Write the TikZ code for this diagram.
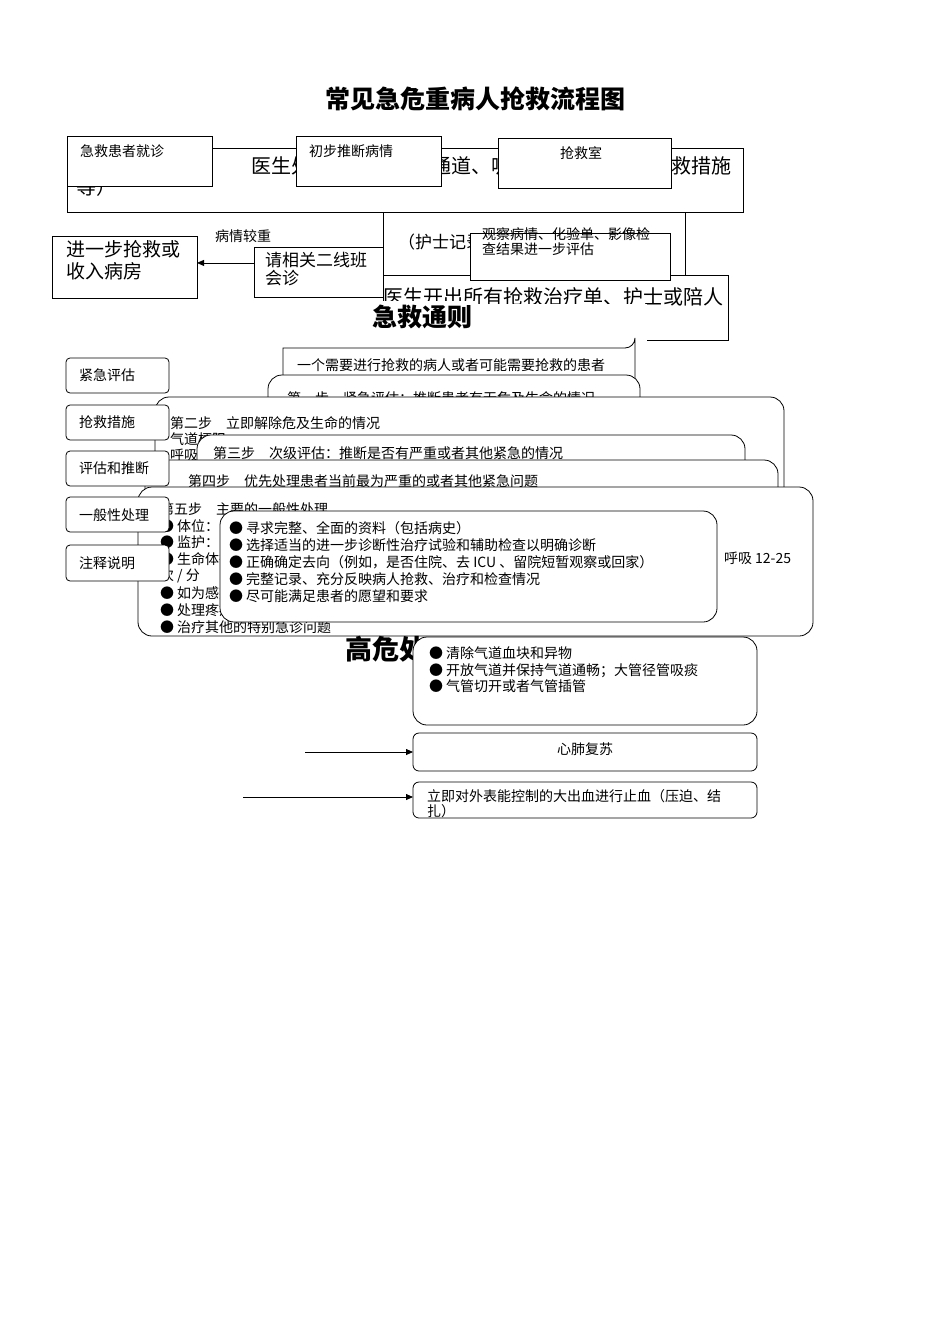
\documentclass[tikz,border=0pt]{standalone}
\usepackage{fontspec}
\setmainfont{Noto Sans CJK SC}
\usetikzlibrary{arrows.meta}
\newcommand{\bx}[6]{\node[#6,anchor=north west,minimum width={(#4-#2)*1pt},minimum height={(#5-#3)*1pt}] (#1) at (#2,#3) {};}
\begin{document}
\begin{tikzpicture}[x=1pt,y=-1pt,inner sep=0pt,outer sep=0pt,
  sq/.style={draw,fill=white,line width=0.8pt},
  rd/.style={draw,fill=white,line width=0.8pt,rounded corners=14pt},
  tx/.style={anchor=west,font=\fontsize{14}{16}\selectfont},
  tl/.style={anchor=west,font=\fontsize{20}{23}\selectfont},
  arr/.style={-{Triangle[length=7pt,width=6pt]},line width=0.8pt}]
\useasboundingbox (0,0) rectangle (950,1344);
\node[font=\bfseries\fontsize{25}{28}\selectfont] (title) at (475,99) {常见急危重病人抢救流程图};
% big treatment box
\bx{treat}{67}{148}{743}{212}{sq}
\node[tl,anchor=east] (t1) at (731,166) {医生处理（开通静脉通道、吸氧、按医嘱实施抢救措施};
\node[tl] (t2) at (76,187) {等）};
\bx{rec}{383}{212}{685}{275}{sq}
\draw[draw=none,fill=white] (384,237) rectangle (684,274);
\draw[line width=0.8pt] (383,236) -- (383,275);
\node[tl,font=\fontsize{17}{20}\selectfont] (t3) at (398,242) {（护士记录）};
\bx{order}{383}{275}{728}{340}{sq}
\node[tl] (t4) at (383,297) {医生开出所有抢救治疗单、护士或陪人};
\bx{obs}{470}{233}{670}{280}{sq}
\node[tx,align=left,anchor=north west,font=\fontsize{14}{15}\selectfont] (t5) at (482,228) {观察病情、化验单、影像检\\查结果进一步评估};
\node[tx] (l1) at (215,236) {病情较重};
\bx{consult}{254}{247}{383}{297}{sq}
\node[tl,align=left,font=\fontsize{17}{18}\selectfont,anchor=north west] (t6) at (265,252) {请相关二线班\\会诊};
\bx{further}{52}{236}{197}{298}{sq}
\node[tl,align=left,font=\fontsize{19}{22}\selectfont,anchor=north west] (t7) at (66,240) {进一步抢救或\\收入病房};
\draw[arr] (consult.172) -- (consult.172 -| further.east);
\bx{visit}{67}{136}{212}{186}{sq}
\node[tx] at (80,151) {急救患者就诊};
\bx{judge}{296}{136}{441}{186}{sq}
\node[tx] at (309,151) {初步推断病情};
\bx{room}{498}{138}{671}{188}{sq}
\node[tx] at (560,153) {抢救室};
\draw[draw=none,fill=white] (381,304) rectangle (647,346);
\node[font=\bfseries\fontsize{25}{28}\selectfont,fill=white,inner xsep=6pt,inner ysep=4pt] (rules) at (422,317) {急救通则};
% steps
\draw[line width=0.8pt,fill=white] (283,630) -- (283,348) -- (625,348) arc[start angle=90,end angle=0,radius=10] -- (635,630);
\node[tx] (s1) at (297,365) {一个需要进行抢救的病人或者可能需要抢救的患者};
\bx{st1}{268}{375}{640}{630}{rd}
\node[tx] at (287,398) {第一步\quad 紧急评估：推断患者有无危及生命的情况};
\bx{st2}{155}{397}{784}{630}{rd}
\node[tx] at (170,423) {第二步\quad 立即解除危及生命的情况};
\node[tx] at (170,439) {气道梗阻};
\node[tx] at (170,455) {呼吸};
\bx{st3}{197}{435}{745}{630}{rd}
\node[tx] at (213,453) {第三步\quad 次级评估：推断是否有严重或者其他紧急的情况};
\bx{st4}{145}{460}{778}{630}{rd}
\node[tx] at (188,481) {第四步\quad 优先处理患者当前最为严重的或者其他紧急问题};
\bx{st5}{138}{487}{813}{636}{rd}
\node[tx] at (160,509) {第五步\quad 主要的一般性处理};
\node[tx] at (160,526) {● 体位：};
\node[tx] at (160,542) {● 监护：};
\node[tx] at (160,559) {● 生命体征};
\node[tx] at (160,576) {次 / 分};
\node[tx] at (160,593) {● 如为感染};
\node[tx] at (160,610) {● 处理疼痛};
\node[tx] at (160,627) {● 治疗其他的特别急诊问题};
\node[tx] at (724,558) {呼吸 12-25};
\bx{notes}{220}{511}{717}{622}{rd}
\node[tx,anchor=north west,align=left,font=\fontsize{14}{16.8}\selectfont] at (229,522) {● 寻求完整、全面的资料（包括病史）\\● 选择适当的进一步诊断性治疗试验和辅助检查以明确诊断\\● 正确确定去向（例如，是否住院、去 ICU 、留院短暂观察或回家）\\● 完整记录、充分反映病人抢救、治疗和检查情况\\● 尽可能满足患者的愿望和要求};
% left labels
\bx{a1}{66}{358}{169}{393}{sq,rounded corners=4pt}
\node[tx] at (79,375) {紧急评估};
\bx{a2}{66}{405}{169}{440}{sq,rounded corners=4pt}
\node[tx] at (79,422) {抢救措施};
\bx{a3}{66}{451}{169}{486}{sq,rounded corners=4pt}
\node[tx] at (79,468) {评估和推断};
\bx{a4}{66}{497}{169}{532}{sq,rounded corners=4pt}
\node[tx] at (79,515) {一般性处理};
\bx{a5}{66}{545}{169}{581}{sq,rounded corners=4pt}
\node[tx] at (79,563) {注释说明};
% high risk
\node[font=\bfseries\fontsize{27}{30}\selectfont,anchor=west] (hr) at (345,649) {高危处理};
\bx{air}{413}{637}{757}{725}{rd}
\node[tx,anchor=north west,align=left,font=\fontsize{14}{16.5}\selectfont] at (429,647) {● 清除气道血块和异物\\● 开放气道并保持气道通畅；大管径管吸痰\\● 气管切开或者气管插管};
\bx{cpr}{413}{733}{757}{771}{sq,rounded corners=6pt}
\node[tx,anchor=center] at (585,749) {心肺复苏};
\bx{bleed}{413}{782}{757}{818}{sq,rounded corners=6pt}
\node[tx,anchor=north west,align=left,font=\fontsize{14}{15}\selectfont] at (427,790) {立即对外表能控制的大出血进行止血（压迫、结\\扎）};
\coordinate (c1) at (305,752);
\coordinate (c2) at (243,797);
\draw[arr] (c1) -- (c1 -| cpr.west);
\draw[arr] (c2) -- (c2 -| bleed.west);
\end{tikzpicture}
\end{document}
